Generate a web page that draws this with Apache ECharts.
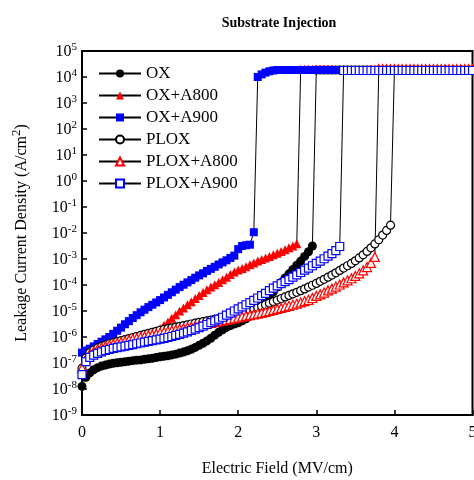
<!DOCTYPE html>
<html>
<head>
<meta charset="utf-8">
<script src="https://cdn.jsdelivr.net/npm/echarts@6/dist/echarts.min.js"></script>
<style>
  html, body { margin: 0; padding: 0; background: #fff; }
  #main { width: 474px; height: 480px; }
</style>
</head>
<body>
<div id="main"></div>
<script>
// electric field grid (MV/cm), shared by all curves
const field = [
  0, 0.05, 0.1, 0.15, 0.2, 0.25, 0.3, 0.35, 0.4, 0.45,
  0.5, 0.55, 0.6, 0.65, 0.7, 0.75, 0.8, 0.85, 0.9, 0.95,
  1, 1.05, 1.1, 1.15, 1.2, 1.25, 1.3, 1.35, 1.4, 1.45,
  1.5, 1.55, 1.6, 1.65, 1.7, 1.75, 1.8, 1.85, 1.9, 1.95,
  2, 2.05, 2.1, 2.15, 2.2, 2.25, 2.3, 2.35, 2.4, 2.45,
  2.5, 2.55, 2.6, 2.65, 2.7, 2.75, 2.8, 2.85, 2.9, 2.95,
  3, 3.05, 3.1, 3.15, 3.2, 3.25, 3.3, 3.35, 3.4, 3.45,
  3.5, 3.55, 3.6, 3.65, 3.7, 3.75, 3.8, 3.85, 3.9, 3.95,
  4, 4.05, 4.1, 4.15, 4.2, 4.25, 4.3, 4.35, 4.4, 4.45,
  4.5, 4.55, 4.6, 4.65, 4.7, 4.75, 4.8, 4.85, 4.9, 4.95, 5
];

// log10 of leakage current density before breakdown
const oxLog = [
  -7.9, -7.55, -7.38, -7.26, -7.18, -7.12, -7.08, -7.04, -7.01, -6.99,
  -6.97, -6.95, -6.93, -6.91, -6.89, -6.88, -6.86, -6.84, -6.82, -6.79,
  -6.76, -6.74, -6.72, -6.69, -6.66, -6.62, -6.58, -6.53, -6.47, -6.4,
  -6.32, -6.24, -6.15, -6.05, -5.93, -5.82, -5.72, -5.63, -5.56, -5.5,
  -5.45, -5.38, -5.3, -5.2, -5.08, -4.95, -4.8, -4.62, -4.44, -4.26,
  -4.08, -3.9, -3.73, -3.57, -3.4, -3.24, -3.08, -2.9, -2.72, -2.5
];
const oxA800Log = [
  -7.2, -6.85, -6.65, -6.55, -6.47, -6.41, -6.36, -6.31, -6.27, -6.23,
  -6.19, -6.15, -6.11, -6.07, -6.03, -5.98, -5.93, -5.88, -5.82, -5.75,
  -5.67, -5.55, -5.42, -5.28, -5.14, -5.0, -4.88, -4.76, -4.64, -4.52,
  -4.4, -4.29, -4.18, -4.08, -3.99, -3.9, -3.8, -3.7, -3.6, -3.5,
  -3.42, -3.37, -3.3, -3.22, -3.15, -3.08, -3.02, -2.96, -2.9, -2.84,
  -2.78, -2.71, -2.64, -2.57, -2.5, -2.41
];
const oxA900Log = [
  -6.6, -6.52, -6.45, -6.36, -6.27, -6.18, -6.09, -6.0, -5.88, -5.76,
  -5.64, -5.51, -5.39, -5.27, -5.16, -5.05, -4.95, -4.85, -4.76, -4.67,
  -4.58, -4.48, -4.38, -4.28, -4.18, -4.08, -3.99, -3.9, -3.81, -3.72,
  -3.63, -3.55, -3.46, -3.38, -3.3, -3.21, -3.13, -3.05, -2.96, -2.87,
  -2.62, -2.5, -2.47, -2.45, -1.97
];
const ploxLog = [
  -7.2, -6.8, -6.6, -6.5, -6.42, -6.36, -6.31, -6.26, -6.22, -6.18,
  -6.14, -6.1, -6.06, -6.02, -5.98, -5.94, -5.9, -5.86, -5.82, -5.78,
  -5.74, -5.71, -5.68, -5.65, -5.62, -5.59, -5.56, -5.53, -5.5, -5.47,
  -5.44, -5.41, -5.38, -5.35, -5.32, -5.29, -5.26, -5.23, -5.2, -5.16,
  -5.12, -5.07, -5.02, -4.97, -4.92, -4.87, -4.82, -4.76, -4.7, -4.64,
  -4.58, -4.52, -4.46, -4.4, -4.34, -4.28, -4.22, -4.15, -4.08, -4.01,
  -3.94, -3.86, -3.78, -3.7, -3.62, -3.53, -3.44, -3.35, -3.26, -3.17,
  -3.07, -2.96, -2.84, -2.71, -2.57, -2.42, -2.26, -2.08, -1.9, -1.7
];
const ploxA800Log = [
  -7.2, -6.85, -6.65, -6.55, -6.47, -6.41, -6.36, -6.31, -6.27, -6.23,
  -6.2, -6.16, -6.12, -6.08, -6.05, -6.01, -5.98, -5.94, -5.91, -5.88,
  -5.84, -5.81, -5.78, -5.75, -5.72, -5.69, -5.66, -5.63, -5.6, -5.57,
  -5.55, -5.52, -5.49, -5.46, -5.43, -5.4, -5.37, -5.34, -5.31, -5.28,
  -5.25, -5.22, -5.19, -5.16, -5.13, -5.1, -5.07, -5.03, -5.0, -4.96,
  -4.92, -4.88, -4.84, -4.8, -4.76, -4.72, -4.67, -4.62, -4.57, -4.5,
  -4.42, -4.36, -4.29, -4.21, -4.14, -4.06, -3.98, -3.9, -3.82, -3.74,
  -3.65, -3.55, -3.44, -3.31, -3.15, -2.92
];
const ploxA900Log = [
  -7.45, -6.95, -6.78, -6.7, -6.63, -6.57, -6.52, -6.48, -6.44, -6.41,
  -6.38, -6.35, -6.32, -6.29, -6.26, -6.23, -6.2, -6.17, -6.14, -6.11,
  -6.08, -6.05, -6.02, -5.98, -5.94, -5.9, -5.85, -5.8, -5.75, -5.7,
  -5.64, -5.58, -5.52, -5.45, -5.38, -5.31, -5.24, -5.16, -5.08, -5.0,
  -4.92, -4.84, -4.76, -4.68, -4.59, -4.5, -4.41, -4.32, -4.22, -4.12,
  -4.03, -3.95, -3.87, -3.79, -3.7, -3.61, -3.52, -3.43, -3.35, -3.26,
  -3.17, -3.08, -2.99, -2.89, -2.79, -2.68, -2.52
];

// after breakdown: first points (log10) then the compliance level
const oxA900Rise = [4.0, 4.1, 4.17, 4.22, 4.25];
const complianceLog = {
  OX: 4.27, 'OX+A800': 4.3, 'OX+A900': 4.27,
  PLOX: 4.25, 'PLOX+A800': 4.3, 'PLOX+A900': 4.25
};

function buildCurve(logs, rise, top) {
  const pts = [];
  for (let i = 0; i < logs.length; i++) pts.push([field[i], Math.pow(10, logs[i])]);
  for (let j = logs.length; j < field.length; j++) {
    const k = j - logs.length;
    const v = k < rise.length ? rise[k] : top;
    pts.push([field[j], Math.pow(10, v)]);
  }
  return pts;
}

const serif = '"Times New Roman", "Liberation Serif", serif';
const myChart = echarts.init(document.getElementById('main'));

function mkSeries(name, logs, rise, symbol, size, color, filled) {
  return {
    name: name,
    type: 'line',
    data: buildCurve(logs, rise, complianceLog[name]),
    symbol: symbol,
    symbolSize: size,
    showAllSymbol: true,
    lineStyle: { color: '#000', width: 1 },
    itemStyle: filled
      ? { color: color, borderWidth: 0 }
      : { color: '#fff', borderColor: color, borderWidth: 1.2 },
    emphasis: { disabled: true },
    animation: false
  };
}

const option = {
  backgroundColor: '#fff',
  title: {
    text: 'Substrate Injection',
    left: 274,
    textAlign: 'center',
    top: 11,
    textStyle: { fontFamily: serif, fontSize: 14, fontWeight: 'bold', color: '#000' }
  },
  legend: {
    orient: 'vertical',
    left: 93,
    top: 60,
    itemWidth: 42,
    itemHeight: 10,
    itemGap: 5,
    textStyle: { fontFamily: serif, fontSize: 17, color: '#000', lineHeight: 17 },
    data: ['OX', 'OX+A800', 'OX+A900', 'PLOX', 'PLOX+A800', 'PLOX+A900']
  },
  grid: {
    left: 82, right: 1.5, top: 51, bottom: 65,
    outerBoundsMode: 'none',
    show: true, borderColor: '#000', borderWidth: 2
  },
  xAxis: {
    type: 'value',
    min: 0, max: 5, interval: 1,
    name: 'Electric Field (MV/cm)',
    nameLocation: 'middle',
    nameGap: 46,
    nameTextStyle: { fontFamily: serif, fontSize: 16, color: '#000' },
    axisLine: { lineStyle: { color: '#000', width: 2 } },
    axisTick: { inside: true, length: 5, lineStyle: { color: '#000', width: 1.5 } },
    axisLabel: { fontFamily: serif, fontSize: 16, color: '#000', margin: 10 },
    splitLine: { show: false }
  },
  yAxis: {
    type: 'log',
    logBase: 10,
    min: 1e-9, max: 1e5, interval: 1,
    name: '{n|Leakage Current Density (A/cm}{s|2}{n|)}',
    nameLocation: 'middle',
    nameGap: 52,
    nameTextStyle: {
      rich: {
        n: { fontFamily: serif, fontSize: 16, color: '#000', lineHeight: 20, verticalAlign: 'bottom' },
        s: { fontFamily: serif, fontSize: 13, color: '#000', lineHeight: 20, verticalAlign: 'top' }
      }
    },
    axisLine: { lineStyle: { color: '#000', width: 2 } },
    axisTick: { inside: true, length: 5, lineStyle: { color: '#000', width: 1.5 } },
    axisLabel: {
      margin: 5,
      formatter: function (v) {
        return '{b|10}{e|' + Math.round(Math.log10(v)) + '}';
      },
      rich: {
        b: { fontFamily: serif, fontSize: 16, color: '#000', lineHeight: 18, verticalAlign: 'bottom' },
        e: { fontFamily: serif, fontSize: 11, color: '#000', lineHeight: 18, verticalAlign: 'top' }
      }
    },
    splitLine: { show: false }
  },
  series: [
    mkSeries('OX', oxLog, [], 'circle', 9, '#000', true),
    mkSeries('OX+A800', oxA800Log, [], 'triangle', 9, '#ff0000', true),
    mkSeries('OX+A900', oxA900Log, oxA900Rise, 'rect', 8, '#0000ff', true),
    mkSeries('PLOX', ploxLog, [], 'circle', 8, '#000', false),
    mkSeries('PLOX+A800', ploxA800Log, [], 'triangle', 9, '#ff0000', false),
    mkSeries('PLOX+A900', ploxA900Log, [], 'rect', 8, '#0000ff', false)
  ]
};

option && myChart.setOption(option);
</script>
</body>
</html>
